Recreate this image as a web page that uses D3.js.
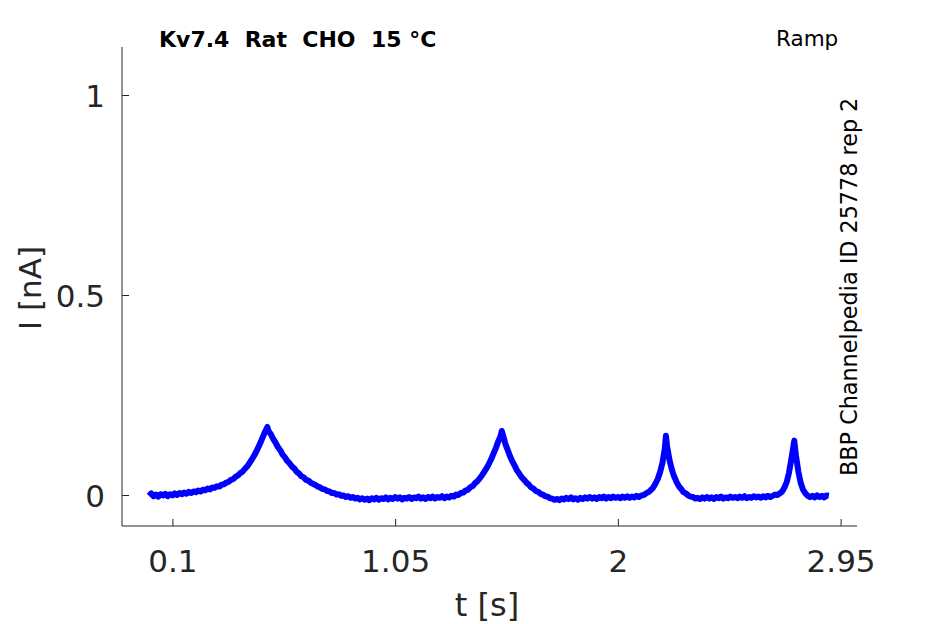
<!DOCTYPE html>
<html>
<head>
<meta charset="utf-8">
<script src="https://cdn.jsdelivr.net/npm/d3@7"></script>
<style>
  body { margin: 0; background: #fff; }
  text { font-family: "DejaVu Sans", sans-serif; }
</style>
</head>
<body>
<div id="chart"></div>
<script>
// --- DATA ---
const xTicks = [0.1, 1.05, 2, 2.95];
const yTicks = [0, 0.5, 1];
const xDomain = [-0.115, 3.02];
const yDomain = [-0.0775, 1.12];

const titleText = 'Kv7.4  Rat  CHO  15 °C';
const protocolText = 'Ramp';
const sideText = 'BBP Channelpedia ID 25778 rep 2';

// time [s] and current [nA] of the recorded trace
const timeS = [
  0.00,0.01,0.02,0.03,0.04,0.05,0.06,0.07,0.08,0.09,
  0.10,0.11,0.12,0.13,0.14,0.15,0.16,0.17,0.18,0.19,
  0.20,0.21,0.22,0.23,0.24,0.25,0.26,0.27,0.28,0.29,
  0.30,0.31,0.32,0.33,0.34,0.35,0.36,0.37,0.38,0.39,
  0.40,0.41,0.42,0.43,0.44,0.45,0.46,0.47,0.48,0.49,
  0.50,0.505,0.51,0.52,0.53,0.54,0.55,0.56,0.57,0.58,0.59,
  0.60,0.61,0.62,0.63,0.64,0.65,0.66,0.67,0.68,0.69,
  0.70,0.71,0.72,0.73,0.74,0.75,0.76,0.77,0.78,0.79,
  0.80,0.81,0.82,0.83,0.84,0.85,0.86,0.87,0.88,0.89,
  0.90,0.91,0.92,0.93,0.94,0.95,0.96,0.97,0.98,0.99,
  1.00,1.01,1.02,1.03,1.04,1.05,1.06,1.07,1.08,1.09,
  1.10,1.11,1.12,1.13,1.14,1.15,1.16,1.17,1.18,1.19,
  1.20,1.21,1.22,1.23,1.24,1.25,1.26,1.27,1.28,1.29,
  1.30,1.31,1.32,1.33,1.34,1.35,1.36,1.37,1.38,1.39,
  1.40,1.41,1.42,1.43,1.44,1.45,1.46,1.47,1.48,1.49,
  1.50,1.505,1.51,1.52,1.53,1.54,1.55,1.56,1.57,1.58,1.59,
  1.60,1.61,1.62,1.63,1.64,1.65,1.66,1.67,1.68,1.69,
  1.70,1.71,1.72,1.73,1.74,1.75,1.76,1.77,1.78,1.79,
  1.80,1.81,1.82,1.83,1.84,1.85,1.86,1.87,1.88,1.89,
  1.90,1.91,1.92,1.93,1.94,1.95,1.96,1.97,1.98,1.99,
  2.00,2.01,2.02,2.03,2.04,2.05,2.06,2.07,2.08,2.09,
  2.10,2.11,2.12,2.13,2.14,2.15,2.16,2.17,2.18,2.19,
  2.20,2.205,2.21,2.22,2.23,2.24,2.25,2.26,2.27,2.28,2.29,
  2.30,2.31,2.32,2.33,2.34,2.35,2.36,2.37,2.38,2.39,
  2.40,2.41,2.42,2.43,2.44,2.45,2.46,2.47,2.48,2.49,
  2.50,2.51,2.52,2.53,2.54,2.55,2.56,2.57,2.58,2.59,
  2.60,2.61,2.62,2.63,2.64,2.65,2.66,2.67,2.68,2.69,
  2.70,2.71,2.72,2.73,2.74,2.75,2.7525,2.755,2.76,2.77,2.78,2.79,
  2.80,2.81,2.82,2.83,2.84,2.85,2.86,2.87,2.88,2.89,2.90
];
const currentNA = [
  -0.002,0.004,-0.003,0.001,-0.004,0.002,-0.001,0.003,-0.003,0.002,
  -0.001,0.004,0.000,0.005,0.002,0.006,0.003,0.008,0.005,0.009,
  0.007,0.011,0.009,0.013,0.012,0.016,0.014,0.019,0.018,0.022,
  0.021,0.026,0.027,0.031,0.033,0.038,0.040,0.046,0.049,0.055,
  0.059,0.066,0.072,0.081,0.090,0.100,0.111,0.124,0.137,0.151,
  0.164,0.170,0.160,0.152,0.140,0.131,0.120,0.112,0.101,0.094,0.085,
  0.079,0.071,0.066,0.058,0.054,0.047,0.044,0.038,0.036,0.031,
  0.028,0.025,0.021,0.019,0.015,0.014,0.010,0.009,0.005,0.005,
  0.001,0.002,-0.002,-0.001,-0.005,-0.003,-0.007,-0.005,-0.009,-0.007,
  -0.011,-0.008,-0.012,-0.009,-0.013,-0.008,-0.011,-0.007,-0.012,-0.008,
  -0.010,-0.006,-0.011,-0.007,-0.010,-0.005,-0.009,-0.006,-0.011,-0.007,
  -0.009,-0.005,-0.010,-0.006,-0.008,-0.004,-0.009,-0.006,-0.010,-0.005,
  -0.008,-0.004,-0.009,-0.005,-0.007,-0.003,-0.008,-0.004,-0.006,-0.002,
  -0.004,0.001,0.000,0.005,0.006,0.011,0.013,0.019,0.022,0.029,
  0.034,0.041,0.049,0.058,0.067,0.078,0.090,0.104,0.118,0.134,
  0.148,0.160,0.150,0.128,0.113,0.097,0.084,0.073,0.061,0.053,0.044,
  0.038,0.031,0.026,0.019,0.016,0.010,0.008,0.003,0.001,-0.003,
  -0.004,-0.008,-0.009,-0.012,-0.010,-0.013,-0.009,-0.011,-0.007,-0.010,
  -0.006,-0.011,-0.008,-0.012,-0.007,-0.010,-0.006,-0.009,-0.005,-0.009,
  -0.006,-0.010,-0.005,-0.008,-0.004,-0.009,-0.005,-0.008,-0.004,-0.007,
  -0.005,-0.008,-0.004,-0.007,-0.003,-0.007,-0.004,-0.006,-0.002,-0.005,
  -0.001,0.000,0.004,0.007,0.012,0.018,0.028,0.040,0.057,0.080,
  0.115,0.148,0.122,0.088,0.064,0.046,0.033,0.022,0.015,0.007,0.004,
  -0.001,-0.004,-0.005,-0.009,-0.007,-0.010,-0.006,-0.009,-0.005,-0.009,
  -0.006,-0.010,-0.005,-0.008,-0.004,-0.009,-0.006,-0.008,-0.004,-0.007,
  -0.005,-0.008,-0.004,-0.007,-0.003,-0.008,-0.005,-0.007,-0.003,-0.006,
  -0.004,-0.007,-0.003,-0.006,-0.002,-0.005,-0.002,0.001,0.000,0.004,
  0.008,0.018,0.032,0.056,0.090,0.126,0.136,0.120,0.097,0.058,0.030,0.013,
  0.004,-0.002,-0.005,-0.002,-0.006,-0.001,-0.005,-0.002,-0.006,-0.001,-0.002
];

// --- LAYOUT ---
const width = 945, height = 624;
const plot = { left: 122, right: 857, top: 47, bottom: 526 };
const axisColor = '#262626';

const svg = d3.select('#chart')
  .append('svg')
  .attr('width', width)
  .attr('height', height);

const x = d3.scaleLinear().domain(xDomain).range([plot.left, plot.right]);
const y = d3.scaleLinear().domain(yDomain).range([plot.bottom, plot.top]);

// trace
const trace = timeS.map((t, i) => [t, currentNA[i]]);
const line = d3.line().x(d => x(d[0])).y(d => y(d[1]));

svg.append('path')
  .datum(trace)
  .attr('d', line)
  .attr('fill', 'none')
  .attr('stroke', '#0000ff')
  .attr('stroke-width', 6)
  .attr('stroke-linejoin', 'round');

// --- AXES (ticks point inward, MATLAB style) ---
const xAxis = svg.append('g')
  .attr('transform', `translate(0,${plot.bottom})`)
  .call(d3.axisTop(x).tickValues(xTicks).tickSize(7).tickFormat(d3.format('')));
xAxis.select('.domain').attr('d', `M${plot.left},0H${plot.right}`);
xAxis.selectAll('line').attr('stroke', axisColor);
xAxis.select('.domain').attr('stroke', axisColor);
xAxis.selectAll('text')
  .attr('y', 46)
  .attr('dy', 0)
  .style('font-size', '31px')
  .attr('fill', axisColor);

const yAxis = svg.append('g')
  .attr('transform', `translate(${plot.left},0)`)
  .call(d3.axisRight(y).tickValues(yTicks).tickSize(7).tickFormat(d3.format('')));
yAxis.select('.domain').attr('d', `M0,${plot.top}V${plot.bottom}`);
yAxis.selectAll('line').attr('stroke', axisColor);
yAxis.select('.domain').attr('stroke', axisColor);
yAxis.selectAll('text')
  .attr('x', -17)
  .attr('dy', '0.36em')
  .attr('text-anchor', 'end')
  .style('font-size', '31px')
  .attr('fill', axisColor);

// axis labels
svg.append('text')
  .attr('x', 487).attr('y', 616)
  .attr('text-anchor', 'middle')
  .style('font-size', '32px')
  .attr('fill', axisColor)
  .text('t [s]');

svg.append('text')
  .attr('transform', 'translate(41,288) rotate(-90)')
  .attr('text-anchor', 'middle')
  .style('font-size', '31px')
  .attr('fill', axisColor)
  .text('I [nA]');

// annotations
svg.append('text')
  .attr('x', 159).attr('y', 47)
  .style('font-size', '22px')
  .style('font-weight', 'bold')
  .style('white-space', 'pre')
  .attr('fill', '#000')
  .text(titleText);

svg.append('text')
  .attr('x', 776).attr('y', 46)
  .style('font-size', '21.5px')
  .attr('fill', '#000')
  .text(protocolText);

svg.append('text')
  .attr('transform', 'translate(857,476) rotate(-90)')
  .style('font-size', '22.3px')
  .attr('fill', '#000')
  .text(sideText);
</script>
</body>
</html>
